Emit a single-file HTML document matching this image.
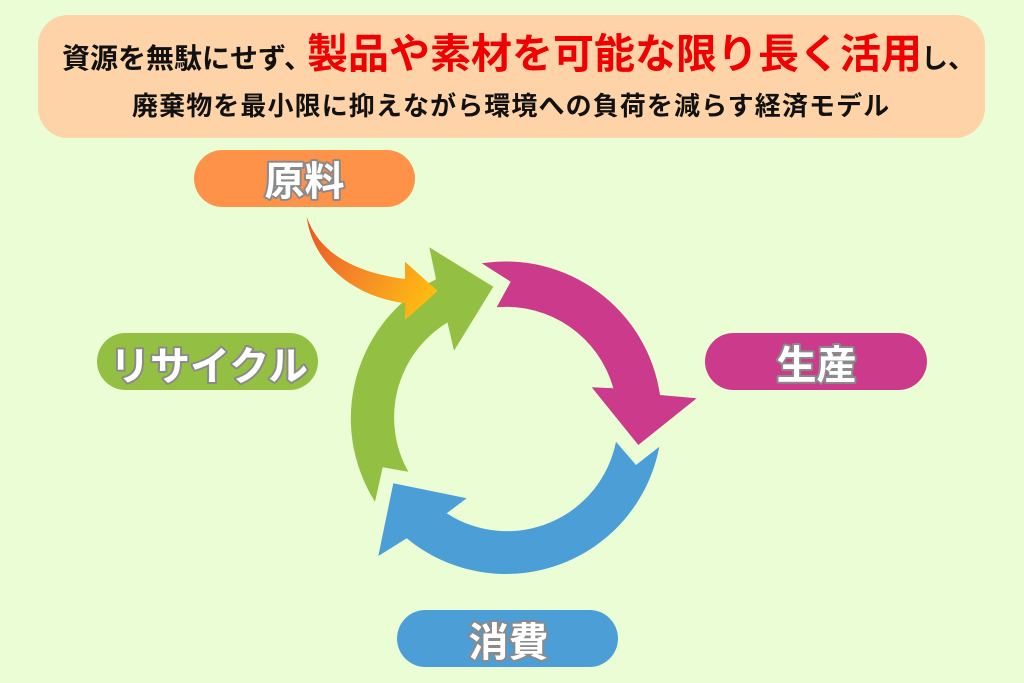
<!DOCTYPE html>
<html>
<head>
<meta charset="utf-8">
<style>
  html,body{margin:0;padding:0;background:#ebfdd5;}
  svg{display:block;}
  text{font-family:"Liberation Sans","Noto Sans CJK JP",sans-serif;font-weight:700;}
  .lbl{font-size:40px;fill:#ffffff;stroke:#8a8a8a;stroke-width:4px;paint-order:stroke;stroke-linejoin:round;}
</style>
</head>
<body>
<svg width="1024" height="683" viewBox="0 0 1024 683" xmlns="http://www.w3.org/2000/svg">
  <defs>
    <linearGradient id="og" gradientUnits="userSpaceOnUse" x1="306" y1="216" x2="438" y2="291">
      <stop offset="0" stop-color="#ea5324"/>
      <stop offset="0.5" stop-color="#f58a27"/>
      <stop offset="1" stop-color="#ffbd10"/>
    </linearGradient>
  </defs>
  <rect x="0" y="0" width="1024" height="683" fill="#ebfdd5"/>

  <!-- header box -->
  <rect x="38" y="15" width="947" height="123" rx="30" ry="30" fill="#fdd3a7"/>
  <text y="68" font-size="28" fill="#111111">
    <tspan x="62">資源を無駄にせず、</tspan><tspan x="307" font-size="41" fill="#f00000">製品や素材を可能な限り長く活用</tspan><tspan x="921" font-size="27" fill="#111111">し、</tspan>
  </text>
  <text x="132" y="115" font-size="26" fill="#111111" letter-spacing="1.1">廃棄物を最小限に抑えながら環境への負荷を減らす経済モデル</text>

  <!-- pills -->
  <rect x="194" y="150" width="221" height="57" rx="28.5" fill="#ff9249"/>
  <text class="lbl" x="304.5" y="195" text-anchor="middle">原料</text>

  <rect x="97" y="333" width="221" height="57" rx="28.5" fill="#93c042"/>
  <text class="lbl" x="209" y="380" text-anchor="middle">リサイクル</text>

  <rect x="705" y="333" width="222" height="57" rx="28.5" fill="#cc3a8b"/>
  <text class="lbl" x="816.5" y="379" text-anchor="middle">生産</text>

  <rect x="397" y="610" width="221" height="57" rx="28.5" fill="#4c9fd6"/>
  <text class="lbl" x="508.5" y="656" text-anchor="middle">消費</text>

  <!-- cycle arrows -->
  <path fill="#93c042" d="M375,501.7 A156,156 0 0 1 436,279.3 L429.3,247.3 L493.3,286.7 L454,350.7 L447.5,322.5 A111,111 0 0 0 408.3,471.7 L382.7,467.3 Z"/>
  <path fill="#cc3a8b" d="M481.7,263.3 A156,156 0 0 1 660,395 L696.7,398.3 L638.3,445 L591.7,387.3 L613.3,388.3 A111,111 0 0 0 496.7,307.3 L510.7,281.7 Z"/>
  <path fill="#4c9fd6" d="M659.3,446.7 A156,156 0 0 1 406.7,538.3 L378.3,556 L393.3,483.3 L466.7,498.3 L446.7,513.3 A111,111 0 0 0 616,441.7 L636,465 Z"/>

  <!-- orange input arrow -->
  <path fill="url(#og)" d="M306.7,216.7 C318,250 350,272 405,279 L405,261.7 L437.7,291 L405,320 L405,303.3 C350,296 312,260 306.7,216.7 Z"/>
</svg>
</body>
</html>
